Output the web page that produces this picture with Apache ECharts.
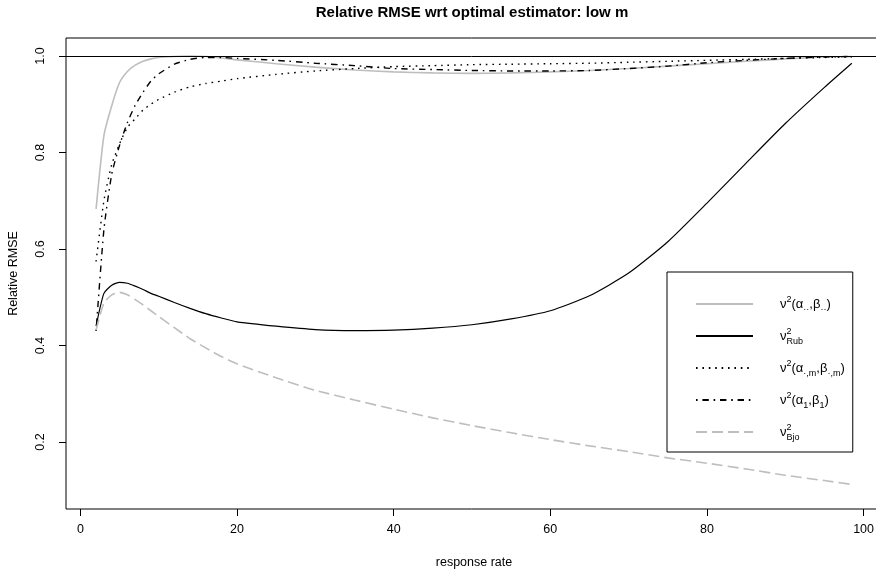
<!DOCTYPE html>
<html>
<head>
<meta charset="utf-8">
<script src="https://cdn.jsdelivr.net/npm/echarts@6/dist/echarts.min.js"></script>
<style>
  html, body { margin: 0; padding: 0; background: #fff; }
  #chart-root { width: 876px; height: 573px; }
</style>
</head>
<body>
<div id="chart-root"></div>
<script>
// response rate (%)
var rates = [2, 3, 4, 5, 6, 7, 8, 9, 10, 12, 14, 16, 18, 20, 25, 30, 35, 40, 45, 50, 55, 60, 65, 70, 75, 80, 85, 90, 95, 98.5];

// relative RMSE per estimator
var alphaStar = [0.683, 0.835, 0.897, 0.945, 0.968, 0.981, 0.989, 0.994, 0.997, 0.999, 1.0, 0.999, 0.996, 0.992, 0.984, 0.977, 0.971, 0.967, 0.965, 0.964, 0.965, 0.967, 0.970, 0.974, 0.979, 0.984, 0.989, 0.994, 0.998, 0.999];
var rub = [0.440, 0.508, 0.525, 0.531, 0.529, 0.523, 0.516, 0.508, 0.502, 0.489, 0.477, 0.466, 0.457, 0.449, 0.440, 0.433, 0.431, 0.432, 0.436, 0.443, 0.455, 0.472, 0.503, 0.550, 0.615, 0.695, 0.778, 0.860, 0.935, 0.985];
var alphaM = [0.574, 0.700, 0.775, 0.818, 0.852, 0.870, 0.888, 0.900, 0.910, 0.925, 0.936, 0.943, 0.948, 0.953, 0.962, 0.969, 0.974, 0.978, 0.980, 0.982, 0.983, 0.984, 0.985, 0.987, 0.989, 0.991, 0.993, 0.995, 0.997, 0.998];
var alpha1 = [0.430, 0.640, 0.755, 0.815, 0.862, 0.898, 0.925, 0.948, 0.963, 0.983, 0.993, 0.997, 0.997, 0.995, 0.991, 0.985, 0.980, 0.974, 0.972, 0.970, 0.969, 0.969, 0.970, 0.974, 0.979, 0.986, 0.991, 0.995, 0.998, 0.999];
var bjo = [0.432, 0.488, 0.505, 0.510, 0.505, 0.495, 0.484, 0.472, 0.460, 0.437, 0.414, 0.395, 0.377, 0.362, 0.333, 0.307, 0.287, 0.268, 0.250, 0.234, 0.219, 0.205, 0.192, 0.180, 0.167, 0.156, 0.144, 0.131, 0.120, 0.112];

var xTicks = [0, 20, 40, 60, 80, 100];
var yTicks = [0.2, 0.4, 0.6, 0.8, 1.0];

function pairs(ys) {
  return rates.map(function (x, i) { return [x, ys[i]]; });
}

var legendText = {
  alphaStar: "{n|ν}{sup|2}{n|(α}{sub|··}{n|,β}{sub|··}{n|)}",
  rub: "{n|ν}{sup0|2}{sub|Rub}",
  alphaM: "{n|ν}{sup|2}{n|(α}{sub|·,m}{n|,β}{sub|·,m}{n|)}",
  alpha1: "{n|ν}{sup|2}{n|(α}{sub|1}{n|,β}{sub|1}{n|)}",
  bjo: "{n|ν}{sup0|2}{sub|Bjo}"
};

var font = "Liberation Sans, Arial, sans-serif";

function lineSeries(name, ys, color, type, width) {
  return {
    name: name,
    type: "line",
    data: pairs(ys),
    symbol: "none",
    smooth: 0.2,
    lineStyle: { color: color, type: type, width: width },
    itemStyle: { color: color }
  };
}

var chart = echarts.init(document.getElementById("chart-root"), null, { renderer: "canvas" });

var series = [
  lineSeries("alphaStar", alphaStar, "#bebebe", "solid", 1.6),
  lineSeries("rub", rub, "#000", "solid", 1.2),
  lineSeries("alphaM", alphaM, "#000", [1.6, 4.8], 1.4),
  lineSeries("alpha1", alpha1, "#000", [1.6, 4.8, 6.4, 4.8], 1.4),
  lineSeries("bjo", bjo, "#bebebe", [11, 5], 1.6)
];
// reference line at 1
series[0].markLine = {
  silent: true,
  symbol: ["none", "none"],
  label: { show: false },
  lineStyle: { color: "#000", type: "solid", width: 1 },
  data: [{ yAxis: 1 }]
};

var option = {
  animation: false,
  backgroundColor: "#fff",
  textStyle: { fontFamily: font, color: "#000" },
  title: {
    text: "Relative RMSE wrt optimal estimator: low m",
    left: 472,
    top: 5,
    padding: 0,
    textAlign: "center",
    textStyle: { fontFamily: font, fontSize: 15, fontWeight: "bold", color: "#000" }
  },
  grid: {
    left: 66,
    top: 38,
    width: 816,
    height: 471,
    outerBoundsMode: "none",
    containLabel: false,
    show: true,
    borderColor: "#000",
    borderWidth: 1
  },
  legend: {
    orient: "vertical",
    left: 667,
    top: 272,
    padding: [20, 8, 8, 28],
    itemWidth: 57,
    itemHeight: 14,
    itemGap: 8,
    borderColor: "#000",
    borderWidth: 1,
    borderRadius: 0,
    backgroundColor: "#fff",
    selectedMode: false,
    itemStyle: { opacity: 0, borderWidth: 0 },
    data: ["alphaStar", "rub", "alphaM", "alpha1", "bjo"],
    formatter: function (name) { return legendText[name]; },
    textStyle: {
      padding: [0, 0, 0, 22],
      rich: {
        n: { fontFamily: font, fontSize: 13, color: "#000", lineHeight: 24 },
        sup: { fontFamily: font, fontSize: 9, color: "#000", verticalAlign: "top", lineHeight: 24, padding: [3, 0, 0, 0] },
        sup0: { fontFamily: font, fontSize: 9, color: "#000", verticalAlign: "top", lineHeight: 24, width: 0, padding: [3, 0, 0, 0] },
        sub: { fontFamily: font, fontSize: 9, color: "#000", verticalAlign: "bottom", lineHeight: 24, padding: [0, 0, 2, 0] }
      }
    }
  },
  xAxis: {
    type: "value",
    min: -1.84,
    max: 102.35,
    name: "response rate",
    nameLocation: "middle",
    nameGap: 47,
    nameTextStyle: { fontFamily: font, fontSize: 12.5, color: "#000" },
    axisLine: { show: false, onZero: false },
    splitLine: { show: false },
    axisTick: { show: true, length: 7, customValues: xTicks, lineStyle: { color: "#000" } },
    axisLabel: { customValues: xTicks, margin: 14, fontFamily: font, fontSize: 12.5, color: "#000" }
  },
  yAxis: {
    type: "value",
    min: 0.0611,
    max: 1.0373,
    name: "Relative RMSE",
    nameLocation: "middle",
    nameRotate: 90,
    nameGap: 46,
    nameMoveOverlap: false,
    nameTextStyle: { fontFamily: font, fontSize: 12.5, color: "#000" },
    axisLine: { show: false, onZero: false },
    splitLine: { show: false },
    axisTick: { show: true, length: 7, customValues: yTicks, lineStyle: { color: "#000" } },
    axisLabel: {
      customValues: yTicks,
      rotate: 90,
      margin: 19,
      fontFamily: font,
      fontSize: 12.5,
      color: "#000",
      formatter: function (v) { return v.toFixed(1); }
    }
  },
  series: series
};

chart.setOption(option);
</script>
</body>
</html>
